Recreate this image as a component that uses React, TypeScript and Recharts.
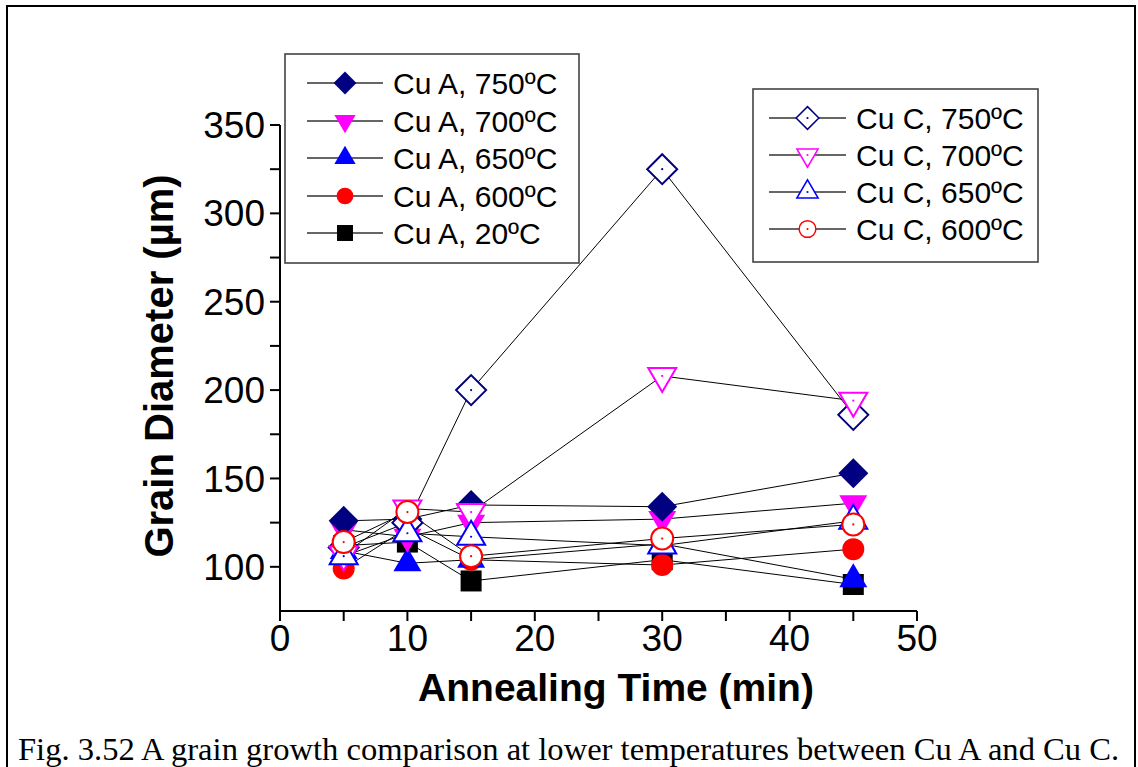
import React from 'react';
import { LineChart, Line, XAxis, YAxis, Label } from 'recharts';

// ---------- data ----------
const TIMES = [5, 10, 15, 30, 45];
const CU_A_750 = [126, 127, 135, 134, 153];
const CU_A_700 = [121, 117, 125, 127, 136];
const CU_A_650 = [109, 102, 104, 113, 93];
const CU_A_600 = [99, 122, 104, 101, 110];
const CU_A_20 = [112, 114, 92, 104, 90];
const CU_C_750 = [111, 125, 200, 325, 186];
const CU_C_700 = [107, 133, 131, 208, 194];
const CU_C_650 = [106, 119, 117, 112, 126];
const CU_C_600 = [114, 131, 106, 116, 124];

const X_TICKS = [0, 5, 10, 15, 20, 25, 30, 35, 40, 45, 50];
const Y_TICKS = [100, 125, 150, 175, 200, 225, 250, 275, 300, 325, 350];

const LEGEND_A = ['Cu A, 750ºC', 'Cu A, 700ºC', 'Cu A, 650ºC', 'Cu A, 600ºC', 'Cu A, 20ºC'];
const LEGEND_C = ['Cu C, 750ºC', 'Cu C, 700ºC', 'Cu C, 650ºC', 'Cu C, 600ºC'];

type Shape = 'diamond' | 'down' | 'up' | 'circle' | 'square';

interface SeriesDef {
  name: string;
  values: number[];
  shape: Shape;
  color: string;
  filled: boolean;
}

const NAVY = '#000080';
const MAGENTA = '#ff00ff';
const BLUE = '#0000ff';
const RED = '#ff0000';
const BLACK = '#000000';

const SERIES_A: SeriesDef[] = [
  { name: LEGEND_A[0], values: CU_A_750, shape: 'diamond', color: NAVY, filled: true },
  { name: LEGEND_A[1], values: CU_A_700, shape: 'down', color: MAGENTA, filled: true },
  { name: LEGEND_A[2], values: CU_A_650, shape: 'up', color: BLUE, filled: true },
  { name: LEGEND_A[3], values: CU_A_600, shape: 'circle', color: RED, filled: true },
  { name: LEGEND_A[4], values: CU_A_20, shape: 'square', color: BLACK, filled: true },
];
const SERIES_C: SeriesDef[] = [
  { name: LEGEND_C[0], values: CU_C_750, shape: 'diamond', color: NAVY, filled: false },
  { name: LEGEND_C[1], values: CU_C_700, shape: 'down', color: MAGENTA, filled: false },
  { name: LEGEND_C[2], values: CU_C_650, shape: 'up', color: BLUE, filled: false },
  { name: LEGEND_C[3], values: CU_C_600, shape: 'circle', color: RED, filled: false },
];

// drawing order (bottom -> top)
const DRAW_ORDER: SeriesDef[] = [
  SERIES_A[4], SERIES_A[3], SERIES_A[2], SERIES_A[1], SERIES_A[0],
  SERIES_C[0], SERIES_C[1], SERIES_C[2], SERIES_C[3],
];

const toData = (vals: number[]) => TIMES.map((t, i) => ({ x: t, y: vals[i] }));

function Marker({ shape, color, filled, cx, cy, s, sw }: { shape: Shape; color: string; filled: boolean; cx: number; cy: number; s: number; sw: number }) {
  const fill = filled ? color : '#ffffff';
  const stroke = filled ? 'none' : color;
  let el: React.ReactNode = null;
  if (shape === 'diamond') {
    const h = 15 * s;
    el = <polygon points={`${cx},${cy - h} ${cx + h},${cy} ${cx},${cy + h} ${cx - h},${cy}`} fill={fill} stroke={stroke} strokeWidth={sw} />;
  } else if (shape === 'down') {
    const w = 28 * s, h = 24 * s;
    const top = cy - h / 3, apex = cy + (2 * h) / 3;
    el = <polygon points={`${cx - w / 2},${top} ${cx + w / 2},${top} ${cx},${apex}`} fill={fill} stroke={stroke} strokeWidth={sw} />;
  } else if (shape === 'up') {
    const w = 28 * s, h = 24 * s;
    const apex = cy - (2 * h) / 3, base = cy + h / 3;
    el = <polygon points={`${cx - w / 2},${base} ${cx + w / 2},${base} ${cx},${apex}`} fill={fill} stroke={stroke} strokeWidth={sw} />;
  } else if (shape === 'circle') {
    el = <circle cx={cx} cy={cy} r={11 * s} fill={fill} stroke={stroke} strokeWidth={sw} />;
  } else {
    const a = 21 * s;
    el = <rect x={cx - a / 2} y={cy - a / 2} width={a} height={a} fill={fill} stroke={stroke} strokeWidth={sw} />;
  }
  return (
    <g>
      {el}
      {!filled && <circle cx={cx} cy={cy} r={1.1} fill={color} />}
    </g>
  );
}

function LegendBox({ items, left, top, width, height, rowY, lineX1, lineX2, textX }: { items: SeriesDef[]; left: number; top: number; width: number; height: number; rowY: number[]; lineX1: number; lineX2: number; textX: number }) {
  return (
    <svg style={{ position: 'absolute', left: 0, top: 0, pointerEvents: 'none' }} width={1138} height={767}>
      <rect x={left} y={top} width={width} height={height} fill="#ffffff" stroke="#444" strokeWidth={1.6} />
      {items.map((it, i) => {
        const y = rowY[i];
        const mx = (lineX1 + lineX2) / 2;
        return (
          <g key={it.name}>
            <line x1={lineX1} y1={y} x2={lineX2} y2={y} stroke="#333" strokeWidth={1.4} />
            <Marker shape={it.shape} color={it.color} filled={it.filled} cx={mx} cy={y} s={0.76} sw={1.5} />
            <text x={textX} y={y} dominantBaseline="central" fontFamily="'Liberation Sans', Arial, sans-serif" fontSize={30} fill="#000">
              {it.name}
            </text>
          </g>
        );
      })}
    </svg>
  );
}

const AXIS_FONT = "'Liberation Sans', Arial, sans-serif";

export default function App() {
  return (
    <div style={{ position: 'absolute', left: 0, top: 0, width: 1138, height: 767, background: '#fff', overflow: 'hidden' }}>
      <div style={{ position: 'absolute', left: 6, top: 5, width: 1130, height: 820, border: '2px solid #000', boxSizing: 'border-box' }} />
      <div style={{ position: 'absolute', left: 0, top: 0 }}>
        <LineChart width={1138} height={767} margin={{ top: 125, right: 221, bottom: 96, left: 0 }}>
          <XAxis
            dataKey="x"
            type="number"
            domain={[0, 50]}
            ticks={X_TICKS}
            interval={0}
            allowDataOverflow
            height={60}
            tickSize={10}
            tickMargin={4}
            axisLine={{ stroke: '#000', strokeWidth: 2 }}
            tickLine={{ stroke: '#000', strokeWidth: 2 }}
            tick={{ fontSize: 37, fill: '#000', fontFamily: AXIS_FONT }}
            tickFormatter={(v: number) => (v % 10 === 0 ? String(v) : '')}
          >
            <Label
              content={() => (
                <text x={616} y={701} textAnchor="middle" fontFamily={AXIS_FONT} fontWeight="bold" fontSize={39} fill="#000">
                  Annealing Time (min)
                </text>
              )}
            />
          </XAxis>
          <YAxis
            dataKey="y"
            type="number"
            domain={[75, 350]}
            ticks={Y_TICKS}
            interval={0}
            allowDataOverflow
            width={280}
            tickSize={10}
            tickMargin={5}
            axisLine={{ stroke: '#000', strokeWidth: 2 }}
            tickLine={{ stroke: '#000', strokeWidth: 2 }}
            tick={{ fontSize: 37, fill: '#000', fontFamily: AXIS_FONT }}
            tickFormatter={(v: number) => (v % 50 === 0 ? String(v) : '')}
          >
            <Label
              content={() => (
                <text x={159} y={366} textAnchor="middle" dominantBaseline="central" transform="rotate(-90 159 366)" fontFamily={AXIS_FONT} fontWeight="bold" fontSize={40} fill="#000">
                  Grain Diameter (µm)
                </text>
              )}
            />
          </YAxis>
          {DRAW_ORDER.map((s) => (
            <Line
              key={s.name}
              name={s.name}
              data={toData(s.values)}
              dataKey="y"
              stroke="#000"
              strokeWidth={1}
              isAnimationActive={false}
              activeDot={false}
              dot={(p: any) => (
                <Marker key={`${s.name}-${p.index}`} shape={s.shape} color={s.color} filled={s.filled} cx={p.cx} cy={p.cy} s={1} sw={2} />
              )}
            />
          ))}
        </LineChart>
      </div>
      <LegendBox items={SERIES_A} left={285} top={54} width={294} height={209} rowY={[83, 121, 158, 196, 233]} lineX1={307} lineX2={383} textX={393} />
      <LegendBox items={SERIES_C} left={753} top={89} width={285} height={173} rowY={[118, 155, 192, 229]} lineX1={769} lineX2={846} textX={856} />
      <div
        style={{
          position: 'absolute',
          left: 18,
          top: 731,
          fontFamily: "'Liberation Serif', 'Times New Roman', serif",
          fontSize: 32.6,
          lineHeight: '36px',
          whiteSpace: 'nowrap',
          color: '#000',
        }}
      >
        Fig. 3.52 A grain growth comparison at lower temperatures between Cu A and Cu C.
      </div>
    </div>
  );
}
